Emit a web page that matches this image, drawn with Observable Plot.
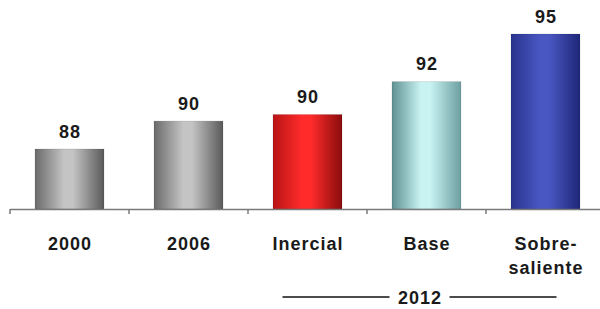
<!DOCTYPE html>
<html>
<head>
<meta charset="utf-8">
<script src="https://cdn.jsdelivr.net/npm/d3@7"></script>
<script src="https://cdn.jsdelivr.net/npm/@observablehq/plot@0.6"></script>
<style>
  html, body { margin: 0; padding: 0; background: #fff; }
  svg text { font-family: "Liberation Sans", Arial, sans-serif; }
</style>
</head>
<body>
<div id="chart"></div>
<script>
// ---- data ----
const categories = ["2000", "2006", "Inercial", "Base", "Sobre-\nsaliente"];
const values = [88, 89.7, 90.1, 92.1, 95];
const valueLabels = ["88", "90", "90", "92", "95"];
const groupLabel = "2012";
const groupMembers = ["Inercial", "Base", "Sobre-\nsaliente"];
const yBase = 84.35;

// gradient stops per bar (left, light, right)
const gradients = [
  ["#6a6a6a", "#c4c4c4", "#5a5a5a"],
  ["#6a6a6a", "#c4c4c4", "#5a5a5a"],
  ["#b81414", "#ff2b2b", "#8a0c0c"],
  ["#5f9193", "#c9f3f3", "#6d9fa1"],
  ["#28348c", "#4957c2", "#1e2778"]
];

const data = categories.map((c, i) => ({
  cat: c, value: values[i], label: valueLabels[i], grad: `url(#grad${i})`
}));

const font = "Liberation Sans, Arial, sans-serif";

const plot = Plot.plot({
  width: 600,
  height: 309,
  marginLeft: 10,
  marginRight: 0,
  marginTop: 0,
  marginBottom: 100,
  x: {type: "band", domain: categories, range: [10, 605], paddingInner: 0.42, paddingOuter: 0.21, axis: null},
  y: {domain: [yBase, 95], range: [209, 34], axis: null},
  color: {type: "identity"},
  marks: [
    Plot.barY(data, {x: "cat", y1: yBase, y2: "value", fill: "grad", stroke: "#00000022", strokeWidth: 0.8}),
    Plot.ruleY([yBase], {stroke: "#7a7a7a", strokeWidth: 1.5}),
    Plot.text(data, {x: "cat", y: "value", text: "label", dy: -12, lineAnchor: "bottom",
      fontSize: 18, fontWeight: "bold", fill: "#1a1a1a", fontFamily: font}),
    Plot.text(data, {x: "cat", frameAnchor: "bottom", text: "cat", lineAnchor: "top", dy: 23,
      lineHeight: 1.36, fontSize: 18, fontWeight: "bold", fill: "#1a1a1a", fontFamily: font}),
    Plot.text([groupLabel], {x: () => "Base", frameAnchor: "bottom", text: d => d, lineAnchor: "top",
      dy: 82, dx: -7, fontSize: 18, fontWeight: "bold", fill: "#1a1a1a", fontFamily: font})
  ]
});

document.getElementById("chart").appendChild(plot);

const svg = d3.select(plot);
// letter spacing on texts
svg.selectAll("text").style("letter-spacing", "1px");

// gradient definitions
const defs = svg.insert("defs", ":first-child");
gradients.forEach((stops, i) => {
  const g = defs.append("linearGradient").attr("id", `grad${i}`)
    .attr("x1", "0").attr("x2", "1").attr("y1", "0").attr("y2", "0");
  g.append("stop").attr("offset", "0%").attr("stop-color", stops[0]);
  g.append("stop").attr("offset", "42%").attr("stop-color", stops[1]);
  g.append("stop").attr("offset", "55%").attr("stop-color", stops[1]);
  g.append("stop").attr("offset", "100%").attr("stop-color", stops[2]);
});

// axis ticks at band boundaries, from the x scale
const xs = plot.scale("x");
const yAxisPx = plot.scale("y").apply(yBase);
const boundaries = categories.map(c => xs.apply(c) + xs.bandwidth / 2 - xs.step / 2);
boundaries.push(xs.apply(categories[categories.length - 1]) + xs.bandwidth / 2 + xs.step / 2);
const tickG = svg.append("g");
boundaries.forEach(bx => {
  tickG.append("line").attr("x1", bx).attr("x2", bx)
    .attr("y1", yAxisPx).attr("y2", yAxisPx + 5)
    .attr("stroke", "#7a7a7a").attr("stroke-width", 1.5);
});

// group bracket lines around "2012"
const gc = xs.apply("Base") + xs.bandwidth / 2 - 7;
const gy = yAxisPx + 88;
const lines = [[gc - 137, gc - 30], [gc + 30, gc + 137]];
lines.forEach(([a, b]) => {
  svg.append("line").attr("x1", a).attr("x2", b).attr("y1", gy).attr("y2", gy)
    .attr("stroke", "#111").attr("stroke-width", 1.3);
});
</script>
</body>
</html>
